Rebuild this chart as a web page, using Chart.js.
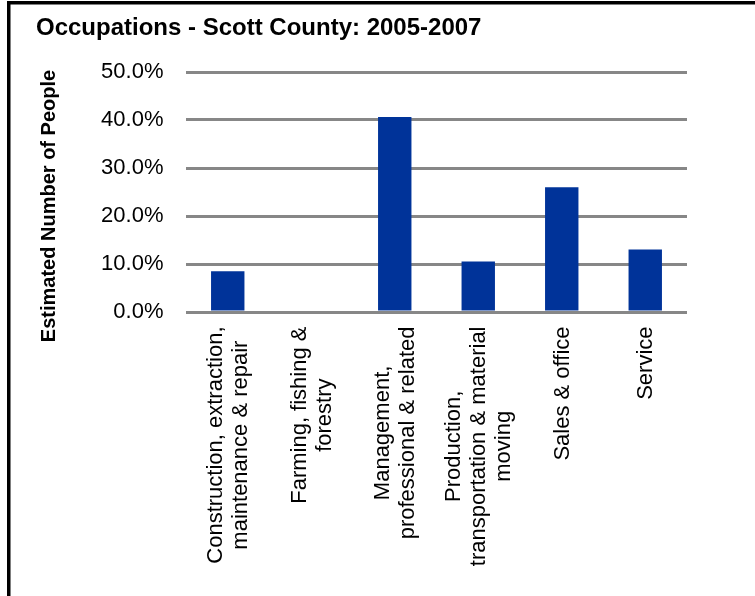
<!DOCTYPE html>
<html>
<head>
<meta charset="utf-8">
<script src="https://cdn.jsdelivr.net/npm/chart.js@4.4.1/dist/chart.umd.min.js"></script>
<style>
  html, body { margin: 0; padding: 0; background: #fff; }
  #wrap { position: relative; width: 755px; height: 596px; }
</style>
</head>
<body>
<div id="wrap"><canvas id="occChart"></canvas></div>
<script>
// chart data
const chartTitle = 'Occupations - Scott County: 2005-2007';
const yAxisTitle = 'Estimated Number of People';
const categories = [
    ['Construction, extraction,', 'maintenance & repair'],
    ['Farming, fishing &', 'forestry'],
    ['Management,', 'professional & related'],
    ['Production,', 'transportation & material', 'moving'],
    ['Sales & office'],
    ['Service']
];
const shares = [8.5, 0, 40.6, 10.5, 26.0, 13.0];
const yMin = 0;
const yMax = 50;
const yStep = 10;

Chart.defaults.font.family = "'Liberation Sans', Arial, Helvetica, sans-serif";
Chart.defaults.color = '#000';

// black frame on the left and top edges
const framePlugin = {
    id: 'frame',
    beforeDraw(chart) {
        const ctx = chart.ctx;
        ctx.save();
        ctx.fillStyle = '#000';
        ctx.fillRect(7, 1, 3.5, 595);
        ctx.fillRect(7, 1, 748, 3.5);
        ctx.restore();
    }
};

// rotated y axis title, placed like the original
const yTitlePlugin = {
    id: 'yTitle',
    afterDraw(chart) {
        const ctx = chart.ctx;
        ctx.save();
        ctx.font = "bold 20px 'Liberation Sans', Arial, sans-serif";
        ctx.fillStyle = '#000';
        ctx.textAlign = 'center';
        ctx.textBaseline = 'alphabetic';
        ctx.translate(55, 206);
        ctx.rotate(-Math.PI / 2);
        ctx.fillText(yAxisTitle, 0, 0);
        ctx.restore();
    }
};

// vertical category labels, lines centred on each other
const xLabelPlugin = {
    id: 'xLabels',
    afterDraw(chart) {
        const ctx = chart.ctx;
        const xs = chart.scales.x;
        ctx.save();
        ctx.font = "22px 'Liberation Sans', Arial, sans-serif";
        ctx.fillStyle = '#000';
        ctx.textAlign = 'center';
        ctx.textBaseline = 'middle';
        categories.forEach((lines, i) => {
            const cx = xs.getPixelForValue(i) + 1;
            const widest = Math.max(...lines.map(l => ctx.measureText(l).width));
            const cy = chart.chartArea.bottom + 14.5 + widest / 2;
            lines.forEach((line, j) => {
                ctx.save();
                ctx.translate(cx + (j - (lines.length - 1) / 2) * 25, cy);
                ctx.rotate(-Math.PI / 2);
                ctx.fillText(line, 0, 0);
                ctx.restore();
            });
        });
        ctx.restore();
    }
};

new Chart(document.getElementById('occChart'), {
    type: 'bar',
    data: {
        labels: categories,
        datasets: [{
            data: shares,
            backgroundColor: '#003399',
            borderWidth: 0,
            barPercentage: 0.4,
            categoryPercentage: 1.0
        }]
    },
    options: {
        responsive: true,
        maintainAspectRatio: false,
        animation: false,
        layout: {
            padding: { left: 36, right: 68, top: 0, bottom: 0 }
        },
        plugins: {
            legend: { display: false },
            tooltip: { enabled: false },
            title: {
                display: true,
                text: chartTitle,
                align: 'start',
                color: '#000',
                font: { size: 24, weight: 'bold' },
                padding: { top: 14.4, bottom: 28.8 }
            }
        },
        scales: {
            x: {
                grid: { display: false },
                border: { display: false },
                ticks: { display: false },
                afterFit(scale) { scale.height = 284; }
            },
            y: {
                min: yMin,
                max: yMax,
                ticks: {
                    stepSize: yStep,
                    padding: 22.5,
                    font: { size: 22 },
                    color: '#000',
                    callback: v => v.toFixed(1) + '%'
                },
                grid: {
                    color: '#878787',
                    lineWidth: 3,
                    drawTicks: false
                },
                border: { display: false },
                afterFit(scale) { scale.width = 150; }
            }
        }
    },
    plugins: [framePlugin, yTitlePlugin, xLabelPlugin]
});
</script>
</body>
</html>
